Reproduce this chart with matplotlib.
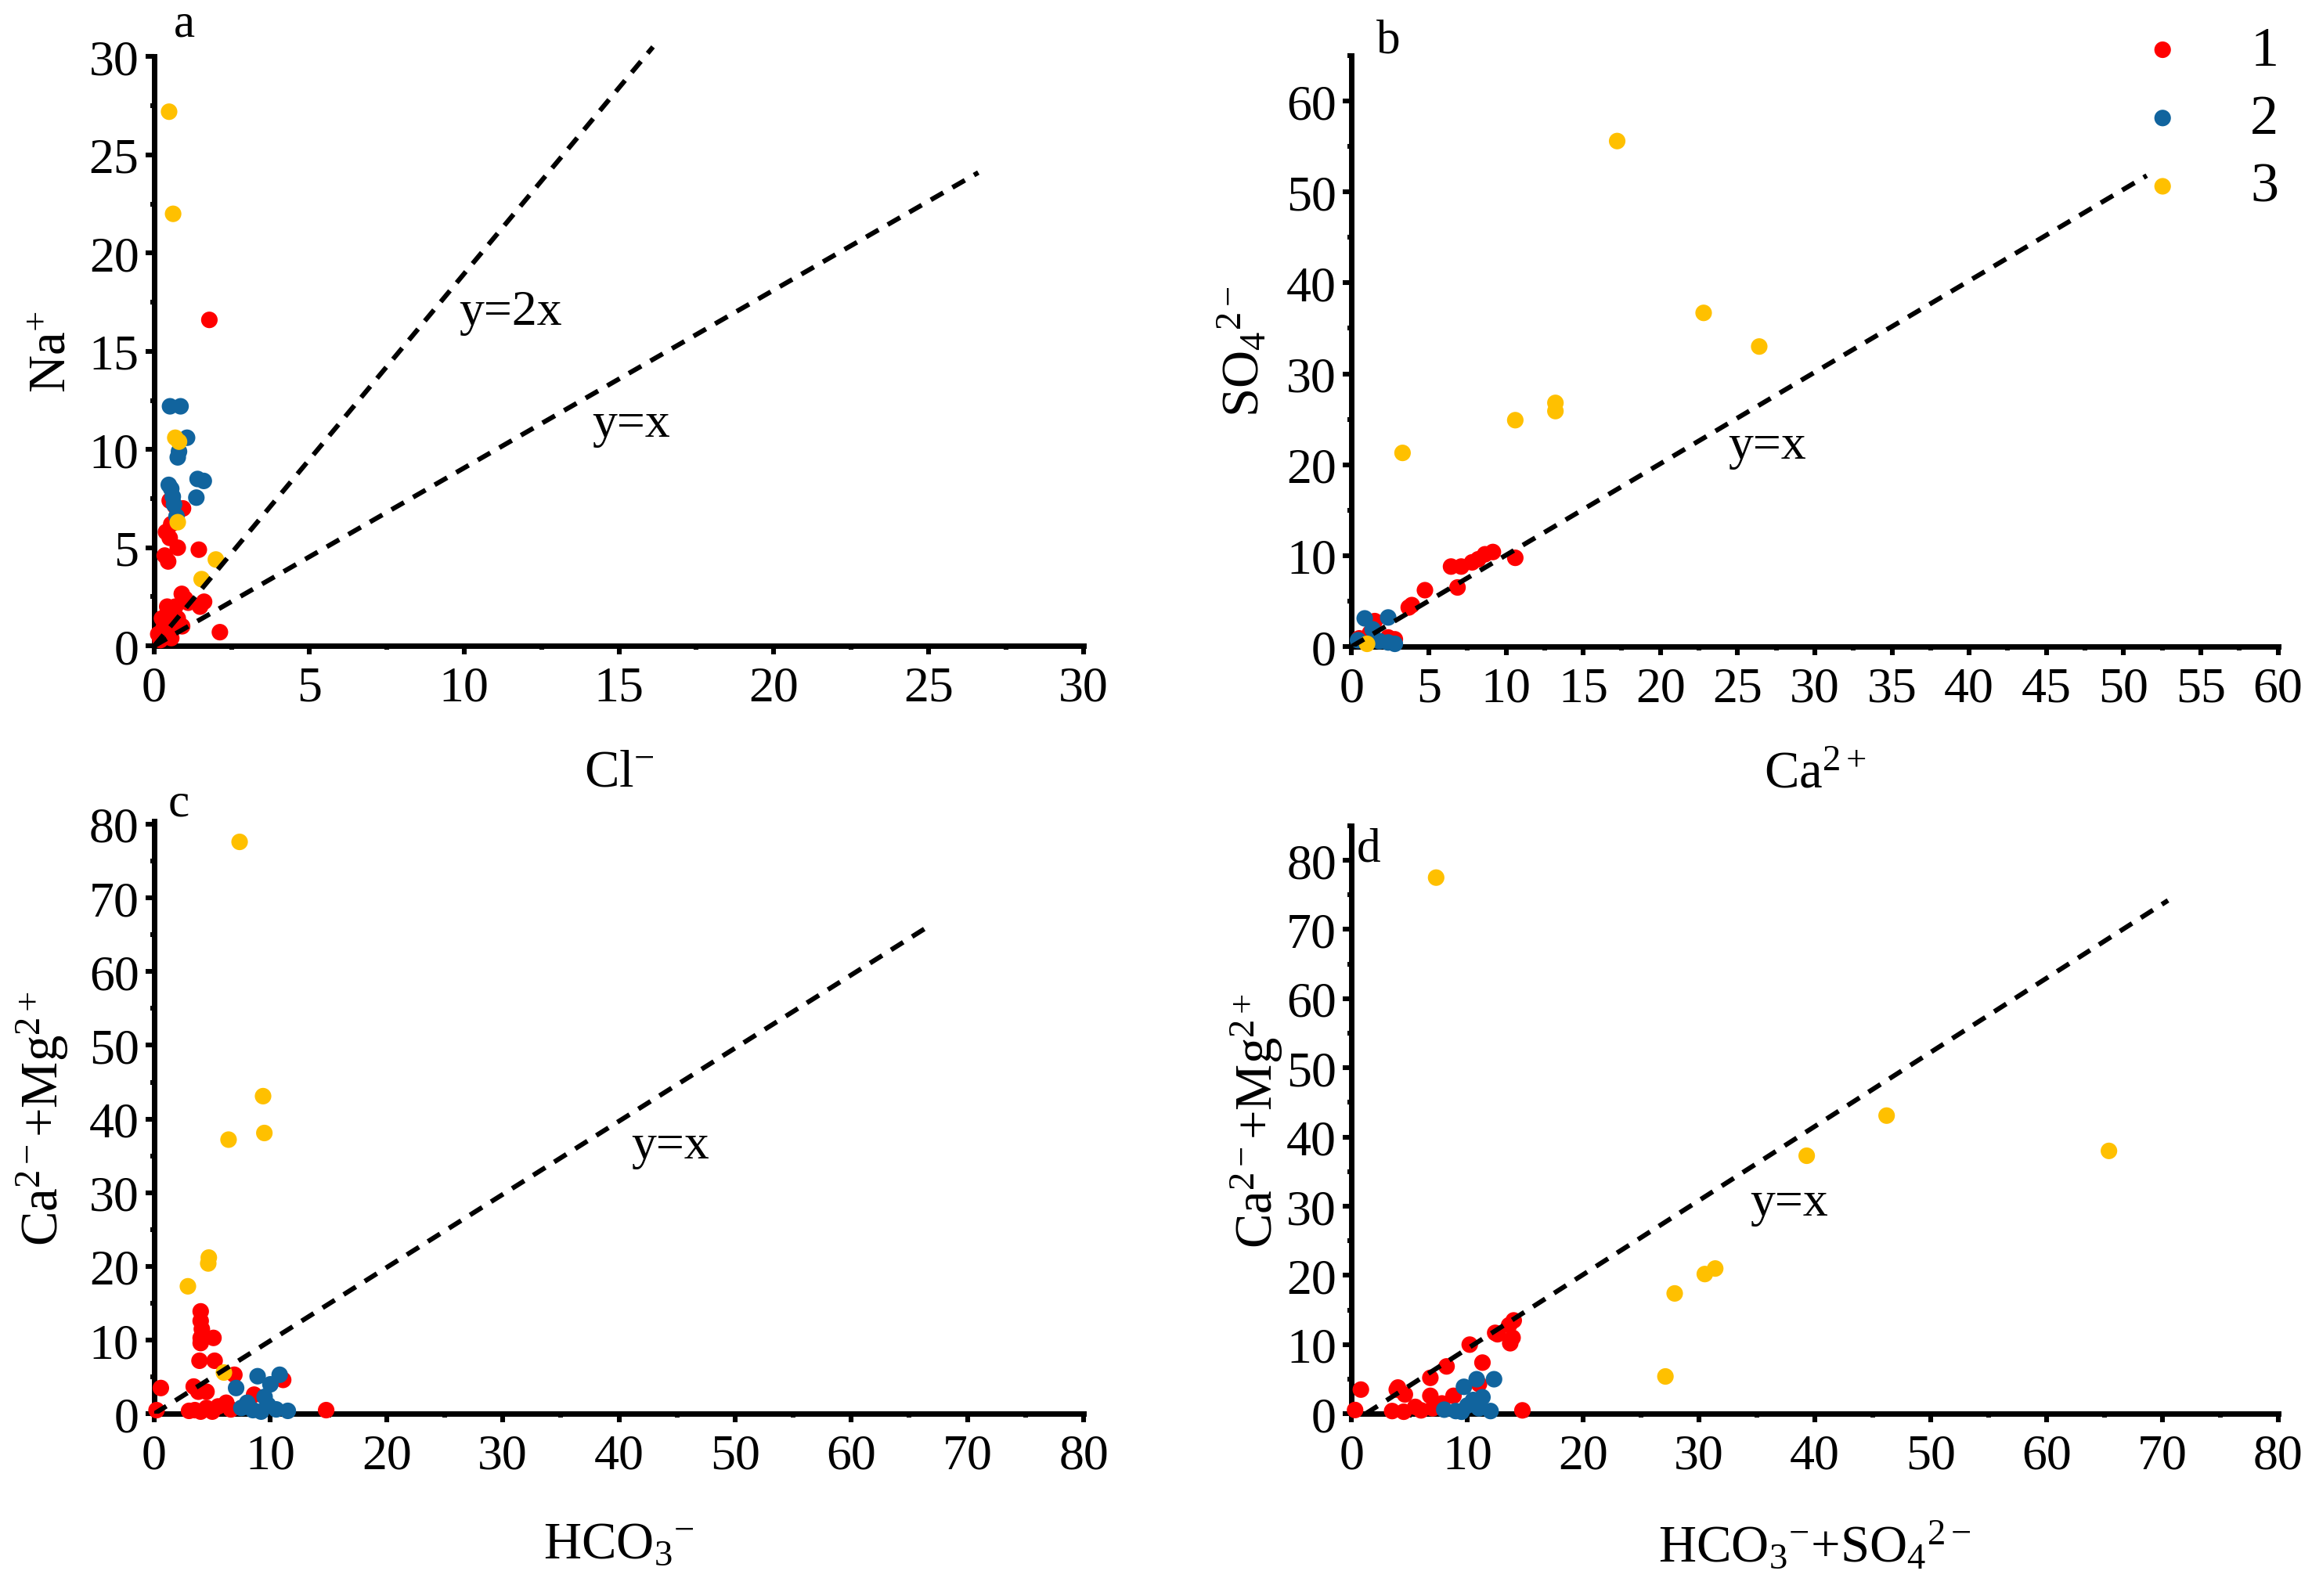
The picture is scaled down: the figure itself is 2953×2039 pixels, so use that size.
import numpy as np
import matplotlib
matplotlib.use('Agg')
import matplotlib.pyplot as plt
from matplotlib.ticker import MultipleLocator

plt.rcParams['font.family'] = ['Liberation Serif', 'DejaVu Serif']
plt.rcParams['mathtext.fontset'] = 'custom'
plt.rcParams['mathtext.rm'] = 'Liberation Serif'
plt.rcParams['mathtext.it'] = 'Liberation Serif:italic'

RED = '#FF0000'
BLUE = '#11649E'
YELLOW = '#FFC000'

# ---- panel a : Cl- vs Na+
a_red_x = [1.78, 0.68, 0.93, 0.38, 0.50, 0.55, 0.34, 0.76, 1.44, 0.89, 1.61, 1.48, 0.42, 0.68,
           0.25, 0.76, 0.13, 0.42, 2.12, 1.00, 0.60, 0.30, 0.20, 0.90, 0.50, 0.45, 1.10, 0.70, 0.35, 0.55]
a_red_y = [16.6, 7.1, 7.0, 5.8, 5.5, 6.2, 4.6, 5.0, 4.9, 2.65, 2.25, 2.0, 2.0, 2.0,
           1.4, 1.4, 0.6, 1.0, 0.7, 2.4, 1.6, 0.9, 0.3, 1.0, 7.4, 4.3, 2.2, 1.0, 1.2, 0.4]
a_blue_x = [0.51, 0.85, 1.06, 0.76, 0.80, 0.47, 1.40, 1.60, 1.36, 0.60, 0.64, 0.72, 0.55]
a_blue_y = [12.2, 12.2, 10.6, 9.6, 9.9, 8.2, 8.5, 8.4, 7.55, 7.6, 7.2, 6.6, 8.0]
a_yel_x = [0.48, 0.61, 0.68, 0.80, 0.76, 1.99, 1.53]
a_yel_y = [27.2, 22.0, 10.6, 10.4, 6.3, 4.4, 3.4]
a_line1_x = [0, 16.1]
a_line1_y = [0, 30.5]
a_line2_x = [0, 26.6]
a_line2_y = [0, 24.1]

# ---- panel b : Ca2+ vs SO4 2-
b_red_x = [10.6, 9.15, 8.64, 7.8, 7.1, 6.44, 6.86, 4.75, 3.9, 3.7, 1.5, 2.37, 0.5, 8.2, 1.2, 2.8]
b_red_y = [9.76, 10.4, 10.15, 9.26, 8.8, 8.8, 6.5, 6.2, 4.56, 4.3, 2.8, 1.0, 0.9, 9.6, 1.5, 0.8]
b_blue_x = [0.85, 2.37, 1.36, 2.37, 0.42, 2.8, 1.8]
b_blue_y = [3.1, 3.2, 1.9, 0.45, 0.7, 0.3, 0.6]
b_yel_x = [17.2, 22.8, 26.4, 13.2, 13.2, 10.6, 3.3, 1.0]
b_yel_y = [55.6, 36.7, 33.0, 26.8, 25.9, 24.9, 21.3, 0.3]
b_line_x = [0, 51.5]
b_line_y = [0, 51.8]

# ---- panel c : HCO3- vs Ca+Mg
c_red_x = [4.0, 4.0, 4.1, 4.0, 4.0, 5.1, 3.9, 5.2, 6.9, 0.57, 3.4, 4.5, 11.1, 8.6, 14.8, 0.2,
           3.5, 4.5, 5.5, 6.2, 6.6, 4.0, 5.0, 3.8, 3.0]
c_red_y = [13.9, 12.6, 11.5, 10.3, 9.6, 10.3, 7.2, 7.2, 5.3, 3.5, 3.7, 3.0, 4.6, 2.6, 0.5, 0.5,
           0.5, 0.8, 1.0, 1.5, 0.6, 0.3, 0.3, 3.0, 0.4]
c_blue_x = [7.05, 8.9, 10.8, 10.0, 9.5, 7.5, 8.5, 9.8, 10.5, 11.5, 8.0, 9.2]
c_blue_y = [3.5, 5.1, 5.3, 4.0, 2.3, 0.8, 0.5, 1.2, 0.6, 0.4, 1.5, 0.3]
c_yel_x = [7.35, 9.37, 9.48, 6.4, 4.7, 4.65, 2.9, 6.0]
c_yel_y = [77.6, 43.1, 38.1, 37.2, 21.2, 20.4, 17.3, 5.6]
c_line_x = [0, 66.3]
c_line_y = [0, 65.8]

# ---- panel d : HCO3- + SO4 2- vs Ca+Mg
d_red_x = [14.0, 13.7, 12.6, 12.4, 13.6, 13.9, 10.2, 11.3, 8.2, 6.8, 3.9, 4.6, 0.8, 6.8, 8.8,
           0.3, 14.75, 11.0, 4.0, 5.5, 3.5, 6.0, 7.0, 4.5, 7.8]
d_red_y = [13.5, 10.2, 11.5, 11.7, 12.8, 11.0, 10.0, 7.4, 6.85, 5.2, 3.5, 2.8, 3.5, 2.6, 2.6,
           0.55, 0.5, 4.3, 3.8, 1.0, 0.4, 0.5, 0.8, 0.3, 1.5]
d_blue_x = [9.7, 10.8, 12.3, 11.3, 8.0, 9.0, 10.0, 11.0, 12.0, 10.5, 9.5]
d_blue_y = [3.9, 5.0, 5.0, 2.4, 0.6, 0.4, 1.2, 0.8, 0.4, 2.0, 0.3]
d_yel_x = [7.3, 39.3, 46.2, 65.4, 31.4, 30.5, 27.9, 27.1]
d_yel_y = [77.5, 37.3, 43.1, 38.0, 21.0, 20.2, 17.4, 5.4]
d_line_x = [1.2, 70.5]
d_line_y = [0, 74.2]

group_labels = ['1', '2', '3']

fig = plt.figure(figsize=(14.765, 10.2), dpi=200)


def style_axis(ax, xlim, ylim, xmaj, xmin, ymaj, ymin):
    ax.set_xlim(*xlim)
    ax.set_ylim(*ylim)
    ax.xaxis.set_major_locator(MultipleLocator(xmaj))
    ax.xaxis.set_minor_locator(MultipleLocator(xmin))
    ax.yaxis.set_major_locator(MultipleLocator(ymaj))
    ax.yaxis.set_minor_locator(MultipleLocator(ymin))
    ax.spines['top'].set_visible(False)
    ax.spines['right'].set_visible(False)
    ax.spines['left'].set_linewidth(2.5)
    ax.spines['bottom'].set_linewidth(2.5)
    ax.tick_params(which='major', direction='out', length=4, width=2.2, labelsize=23)
    ax.tick_params(axis='x', which='major', pad=5)
    ax.tick_params(axis='y', which='major', pad=3)
    ax.tick_params(which='minor', direction='out', length=1.8, width=2.2)


def scatter3(ax, rx, ry, bx, by, yx, yy):
    s = 58
    h1 = ax.scatter(rx, ry, s=s, c=RED, edgecolors='none', clip_on=False, zorder=3)
    h2 = ax.scatter(bx, by, s=s, c=BLUE, edgecolors='none', clip_on=False, zorder=3)
    h3 = ax.scatter(yx, yy, s=s, c=YELLOW, edgecolors='none', clip_on=False, zorder=3)
    return h1, h2, h3


dash = dict(color='black', linestyle=(0, (3, 2.2)), linewidth=2.2, zorder=4)

# a
ax1 = fig.add_axes([0.0667, 0.595, 0.402, 0.369])
scatter3(ax1, a_red_x, a_red_y, a_blue_x, a_blue_y, a_yel_x, a_yel_y)
ax1.plot(a_line1_x, a_line1_y, clip_on=False, **dash)
ax1.plot(a_line2_x, a_line2_y, clip_on=False, **dash)
style_axis(ax1, (0, 30), (0, 30), 5, 2.5, 5, 2.5)
ax1.text(11.5, 17.0, 'y=2x', fontsize=23, ha='center', va='center')
ax1.text(15.4, 11.3, 'y=x', fontsize=23, ha='center', va='center')
ax1.text(0.032, 1.055, 'a', transform=ax1.transAxes, fontsize=22, ha='center', va='center')
ax1.set_xlabel('Cl$^{-}$', fontsize=24)
ax1.set_ylabel('Na$^{+}$', fontsize=24)
ax1.xaxis.set_label_coords(0.5, -0.175)
ax1.yaxis.set_label_coords(-0.085, 0.5)

# b
ax2 = fig.add_axes([0.5846, 0.5946, 0.4007, 0.3701])
hs = scatter3(ax2, b_red_x, b_red_y, b_blue_x, b_blue_y, b_yel_x, b_yel_y)
ax2.plot(b_line_x, b_line_y, **dash)
style_axis(ax2, (0, 60), (0, 65), 5, 2.5, 10, 5)
ax2.text(26.9, 22.0, 'y=x', fontsize=23, ha='center', va='center')
ax2.text(0.04, 1.025, 'b', transform=ax2.transAxes, fontsize=22, ha='center', va='center')
ax2.set_xlabel('Ca$^{2+}$', fontsize=24)
ax2.set_ylabel('SO$_{4}$$^{2-}$', fontsize=24)
ax2.xaxis.set_label_coords(0.5, -0.175)
ax2.yaxis.set_label_coords(-0.088, 0.5)
leg = ax2.legend(hs, group_labels, loc='upper right', bbox_to_anchor=(1.025, 1.09),
                 frameon=False, fontsize=26, markerscale=1.0, handletextpad=0.8,
                 labelspacing=0.3, borderaxespad=0, handlelength=1.5)

# c
ax3 = fig.add_axes([0.0667, 0.1141, 0.402, 0.3711])
scatter3(ax3, c_red_x, c_red_y, c_blue_x, c_blue_y, c_yel_x, c_yel_y)
ax3.plot(c_line_x, c_line_y, **dash)
style_axis(ax3, (0, 80), (0, 80.4), 10, 5, 10, 5)
ax3.text(44.4, 36.3, 'y=x', fontsize=23, ha='center', va='center')
ax3.text(0.026, 1.03, 'c', transform=ax3.transAxes, fontsize=22, ha='center', va='center')
ax3.set_xlabel('HCO$_{3}$$^{-}$', fontsize=24)
ax3.set_ylabel('Ca$^{2-}$+Mg$^{2+}$', fontsize=24)
ax3.xaxis.set_label_coords(0.5, -0.18)
ax3.yaxis.set_label_coords(-0.09, 0.5)

# d
ax4 = fig.add_axes([0.5846, 0.1141, 0.4007, 0.3683])
scatter3(ax4, d_red_x, d_red_y, d_blue_x, d_blue_y, d_yel_x, d_yel_y)
ax4.plot(d_line_x, d_line_y, **dash)
style_axis(ax4, (0, 80), (0, 85), 10, 5, 10, 5)
ax4.text(37.8, 30.5, 'y=x', fontsize=23, ha='center', va='center')
ax4.text(0.018, 0.96, 'd', transform=ax4.transAxes, fontsize=22, ha='center', va='center')
ax4.set_xlabel('HCO$_{3}$$^{-}$+SO$_{4}$$^{2-}$', fontsize=24)
ax4.set_ylabel('Ca$^{2-}$+Mg$^{2+}$', fontsize=24)
ax4.xaxis.set_label_coords(0.5, -0.18)
ax4.yaxis.set_label_coords(-0.072, 0.5)

fig.savefig('out.png', dpi=200)
